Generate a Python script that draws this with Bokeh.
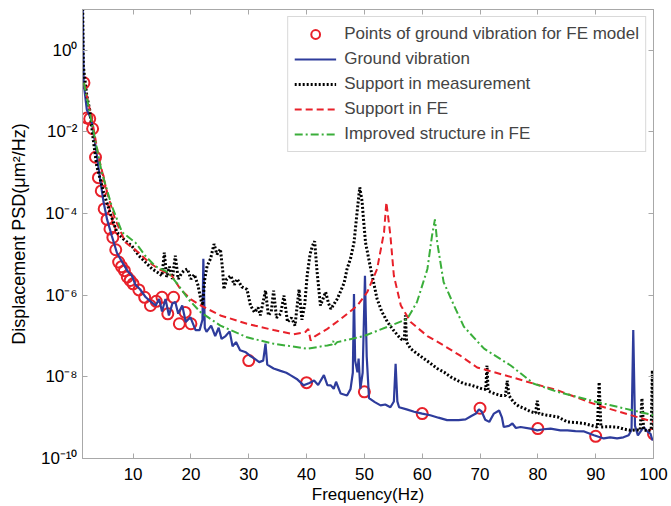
from bokeh.plotting import figure
from bokeh.models import (FixedTicker, CustomJSTickFormatter, LinearAxis, LogAxis,
                          Legend, LegendItem, Range1d)
from bokeh.embed import file_html
from bokeh.resources import INLINE

FONT = "Liberation Sans"

# ---- data ----
points_freq = [1.5, 2.0, 2.5, 3.0, 3.5, 4.0, 4.5, 5.0, 5.5, 6.0, 6.5, 7.0, 7.5, 8.0, 8.5, 9.0,
               9.5, 10, 11, 12, 13, 14, 15, 16, 17, 18, 19, 20, 30, 40, 50, 60, 70, 80, 90, 100]
points_psd = [1.6e-1, 2.2e-2, 2.1e-2, 1.2e-2, 2.4e-3, 7.6e-4, 3.6e-4, 1.3e-4, 7.2e-5, 4.2e-5,
              2.6e-5, 1.3e-5, 6.5e-6, 5.0e-6, 4.0e-6, 2.8e-6, 2.3e-6, 1.9e-6, 1.35e-6, 8.9e-7,
              5.6e-7, 7.1e-7, 8.9e-7, 3.5e-7, 8.9e-7, 2.0e-7, 3.8e-7, 2.0e-7, 2.5e-8, 7.2e-9,
              4.3e-9, 1.26e-9, 1.7e-9, 5.4e-10, 3.5e-10, 4.0e-10]

ground_freq = [1.25, 1.45, 2.0, 2.8, 3.5, 4.3, 4.9, 5.5, 6.3, 7.2, 8.1, 9.0, 9.8, 10.4, 11.2,
               12.2, 13.0, 13.9, 14.5, 15.0, 15.6, 16.2, 16.8, 17.3, 17.8, 18.5, 19.1, 19.9,
               20.8, 21.5, 22.0, 22.15, 22.4, 22.7, 23.5, 24.2, 24.8, 25.3, 26.0, 26.7, 27.2,
               27.8, 28.5, 29.5, 30.2, 31.0, 31.8, 32.5, 32.9, 33.2, 34.3, 35.5, 36.5, 37.2,
               38.3, 39.5, 40.5, 41.3, 42.0, 43.0, 43.6, 44.2, 44.7, 45.1, 45.9, 47.0, 47.6,
               48.0, 48.2, 48.4, 48.8, 49.0, 49.3, 49.7, 50.1, 50.4, 50.8, 51.8, 52.8, 53.6,
               54.5, 55.1, 55.4, 55.7, 56.0, 57.3, 58.6, 60.0, 61.4, 62.8, 64.3, 66.3, 67.5,
               68.5, 69.3, 69.8, 70.3, 70.9, 71.6, 72.4, 73.3, 73.8, 74.1, 75.0, 75.6, 76.2,
               77.0, 78.7, 79.9, 81.0, 82.2, 83.9, 85.1, 86.5, 88.0, 89.7, 91.4, 92.5, 93.7,
               94.8, 95.7, 96.2, 96.5, 96.8, 97.3, 98.3, 99.0, 99.5, 99.8, 100]
ground_psd = [3.2e1, 1.6e-1, 3.5e-2, 2.0e-2, 4.6e-3, 6.9e-4, 1.9e-4, 7.2e-5, 2.9e-5, 1.1e-5,
              6.5e-6, 4.0e-6, 3.0e-6, 1.8e-6, 1.4e-6, 8.9e-7, 7.1e-7, 5.6e-7, 8.1e-7, 4.0e-7,
              8.1e-7, 3.2e-7, 6.3e-7, 6.8e-7, 3.5e-7, 5.6e-7, 2.2e-7, 2.9e-7, 1.4e-7, 1.4e-7,
              2.5e-7, 7.8e-6, 1.6e-7, 1.26e-7, 1.8e-7, 1.0e-7, 1.6e-7, 8.5e-8, 1.0e-7, 1.3e-7,
              5.6e-8, 7.1e-8, 4.5e-8, 4.0e-8, 3.3e-8, 2.8e-8, 2.3e-8, 2.5e-8, 6.5e-8, 2.0e-8,
              1.6e-8, 1.4e-8, 1.26e-8, 1.1e-8, 8.9e-9, 6.2e-9, 7.1e-9, 8.1e-9, 6.3e-9, 1.1e-8,
              6.3e-9, 6.2e-9, 5.1e-9, 7.6e-9, 3.9e-9, 3.5e-9, 5.0e-9, 1.26e-8, 1.07e-6, 2.5e-8,
              1.3e-8, 2.8e-8, 5.1e-9, 1.26e-8, 3.0e-6, 3.2e-8, 3.0e-9, 2.4e-9, 2.0e-9, 2.1e-9,
              1.8e-9, 2.5e-9, 2.1e-8, 2.5e-9, 1.8e-9, 1.6e-9, 1.4e-9, 1.26e-9, 1.15e-9, 1.0e-9,
              8.7e-10, 8.7e-10, 9.1e-10, 1.1e-9, 1.26e-9, 1.6e-9, 1.4e-9, 8.9e-10, 7.9e-10,
              1.26e-9, 1.5e-9, 1.0e-9, 5.9e-10, 6.3e-10, 7.2e-10, 5.6e-10, 5.9e-10, 5.4e-10,
              4.9e-10, 5.2e-10, 5.4e-10, 4.9e-10, 4.9e-10, 4.7e-10, 4.6e-10, 3.7e-10, 3.1e-10,
              3.3e-10, 3.1e-10, 3.3e-10, 3.7e-10, 5.0e-10, 1.4e-7, 6.3e-10, 3.7e-10, 5.9e-10,
              4.5e-10, 4.0e-10, 2.8e-10, 3.2e-10]

support_meas_freq = [1.25, 1.4, 2.0, 2.5, 3.1, 3.7, 4.9, 6.0, 7.2, 8.3, 9.8, 11.0, 12.1, 13.3,
                     14.4, 15.0, 15.4, 15.8, 16.3, 16.8, 17.3, 17.8, 18.4, 18.8, 19.4, 20.0,
                     20.6, 21.2, 21.7, 22.0, 22.4, 22.8, 23.4, 24.0, 24.5, 25.1, 25.5, 25.7,
                     26.2, 26.9, 27.5, 28.0, 28.8, 29.7, 30.3, 31.0, 31.6, 32.0, 32.9, 33.4,
                     33.9, 34.3, 34.8, 35.5, 36.1, 36.7, 37.4, 38.0, 38.7, 39.2, 39.7, 40.1,
                     40.6, 41.0, 41.4, 41.8, 42.4, 43.3, 43.8, 44.2, 45.3, 45.9, 46.5, 47.0,
                     47.6, 48.2, 48.8, 49.2, 49.6, 49.8, 50.2, 51.1, 52.2, 53.0, 54.0, 55.0,
                     56.3, 56.9, 57.1, 57.3, 58.0, 59.0, 60.3, 61.5, 62.6, 63.8, 64.9, 66.0,
                     67.2, 68.4, 69.5, 70.5, 71.0, 71.2, 71.4, 72.3, 73.5, 74.4, 74.7, 75.0,
                     75.8, 76.7, 77.6, 78.8, 79.6, 79.9, 80.2, 81.6, 83.4, 85.1, 86.5, 88.0,
                     90.3, 90.6, 90.9, 92.2, 93.7, 95.0, 96.0, 97.0, 97.7, 98.0, 98.3, 99.0,
                     99.6, 99.8, 100]
support_meas_psd = [3.2e1, 4.1e-1, 7.6e-2, 3.5e-2, 6.6e-3, 1.5e-3, 3.3e-4, 1.07e-4, 3.5e-5,
                    2.4e-5, 1.6e-5, 9.3e-6, 6.5e-6, 4.4e-6, 3.5e-6, 3.0e-6, 1.1e-5, 2.8e-6,
                    5.0e-6, 2.5e-6, 9.3e-6, 2.5e-6, 3.5e-6, 4.0e-6, 4.4e-6, 2.5e-6, 3.2e-6,
                    1.8e-6, 8.1e-7, 5.6e-7, 2.5e-6, 5.2e-6, 7.9e-6, 1.8e-5, 1.0e-5, 1.35e-5,
                    4.0e-6, 1.4e-6, 2.5e-6, 3.0e-6, 1.8e-6, 2.5e-6, 1.6e-6, 1.4e-6, 5.6e-7,
                    3.8e-7, 5.0e-7, 3.2e-7, 1.3e-6, 3.2e-7, 4.0e-7, 1.3e-6, 2.8e-7, 3.5e-7,
                    9.8e-7, 2.2e-7, 2.8e-7, 1.8e-7, 1.4e-6, 2.5e-7, 6.3e-7, 3.0e-6, 1.0e-5,
                    1.6e-5, 2.1e-5, 4.0e-6, 5.6e-7, 1.2e-6, 6.3e-7, 4.6e-7, 8.1e-7, 1.26e-6,
                    2.0e-6, 4.4e-6, 7.9e-6, 1.95e-5, 1.3e-4, 4.4e-4, 2.0e-4, 8.7e-5, 1.95e-5,
                    4.4e-6, 8.1e-7, 4.0e-7, 2.2e-7, 1.4e-7, 8.5e-8, 7.9e-8, 3.2e-7, 7.1e-8,
                    4.9e-8, 3.8e-8, 2.8e-8, 2.1e-8, 1.6e-8, 1.3e-8, 1.0e-8, 8.3e-9, 6.8e-9,
                    6.3e-9, 5.6e-9, 5.0e-9, 5.0e-9, 1.9e-8, 4.5e-9, 4.0e-9, 3.5e-9, 3.5e-9,
                    8.1e-9, 3.5e-9, 2.4e-9, 1.9e-9, 1.7e-9, 1.4e-9, 1.3e-9, 2.6e-9, 1.26e-9,
                    1.15e-9, 1.05e-9, 7.9e-10, 7.6e-10, 7.2e-10, 5.9e-10, 7.4e-9, 5.9e-10,
                    6.0e-10, 5.9e-10, 5.2e-10, 4.9e-10, 5.0e-10, 5.0e-10, 3.0e-9, 5.0e-10,
                    4.8e-10, 5.0e-10, 1.45e-8, 5.0e-10]

support_fe_freq = [1.5, 2.9, 4.0, 5.5, 6.9, 8.7, 11.0, 12.7, 14.4, 16.7, 18.2, 20.0, 21.7, 25.1,
                   29.7, 34.3, 37.8, 39.8, 40.3, 40.7, 41.5, 43.6, 45.9, 48.8, 50.5, 52.2, 53.4,
                   53.8, 54.5, 55.1, 56.3, 58.0, 60.9, 63.7, 66.6, 69.5, 75.3, 79.3, 83.4, 90.4,
                   100]
support_fe_psd = [1.6e-1, 2.0e-2, 2.6e-3, 3.3e-4, 7.2e-5, 1.95e-5, 1.1e-5, 6.5e-6, 4.4e-6,
                  3.0e-6, 1.4e-6, 7.9e-7, 5.6e-7, 3.2e-7, 2.0e-7, 1.4e-7, 1.1e-7, 1.26e-7,
                  1.5e-7, 7.8e-8, 1.0e-7, 1.5e-7, 2.6e-7, 5.6e-7, 1.2e-6, 4.4e-6, 3.5e-5,
                  1.9e-4, 2.9e-5, 3.0e-6, 5.6e-7, 2.2e-7, 1.0e-7, 5.9e-8, 3.3e-8, 1.7e-8,
                  1.0e-8, 6.8e-9, 4.7e-9, 2.0e-9, 7.9e-10]

improved_freq = [1.5, 3.2, 4.6, 6.3, 8.1, 10.4, 12.1, 13.8, 16.1, 17.9, 19.6, 21.7, 25.1, 29.7,
                 34.3, 40.1, 43.6, 44.4, 44.6, 44.8, 45.3, 49.9, 54.5, 57.4, 59.1, 60.9, 61.7,
                 62.2, 62.6, 63.7, 65.5, 66.6, 67.2, 70.7, 75.3, 79.3, 83.4, 90.3, 100]
improved_psd = [1.6e-1, 9.5e-3, 1.0e-3, 1.55e-4, 3.5e-5, 1.95e-5, 9.3e-6, 5.2e-6, 3.6e-6,
                1.7e-6, 7.9e-7, 3.8e-7, 1.8e-7, 9.3e-8, 6.5e-8, 4.9e-8, 5.9e-8, 6.2e-8,
                7.6e-8, 6.0e-8, 7.1e-8, 1.0e-7, 1.8e-7, 2.6e-7, 6.8e-7, 4.4e-6, 2.9e-5,
                7.2e-5, 1.95e-5, 2.1e-6, 5.6e-7, 2.6e-7, 1.7e-7, 4.9e-8, 1.9e-8, 6.8e-9,
                4.3e-9, 2.4e-9, 1.15e-9]

x_ticks = [10, 20, 30, 40, 50, 60, 70, 80, 90, 100]
y_ticks = [1e-10, 1e-8, 1e-6, 1e-4, 1e-2, 1e0]

legend_labels = ["Points of ground vibration for FE model", "Ground vibration",
                 "Support in measurement", "Support in FE", "Improved structure in FE"]

# ---- figure ----
p = figure(width=671, height=506, x_range=Range1d(1.25, 100), y_range=Range1d(1e-10, 10),
           y_axis_type="log", output_backend="svg", toolbar_location=None,
           min_border_left=82, min_border_right=18, min_border_top=9, min_border_bottom=46,
           background_fill_color="white", border_fill_color="white")
p.grid.visible = False
p.outline_line_color = "#a8a8a8"

RED = "#e8212a"
BLUE = "#2e3c9c"
GREEN = "#3aae3a"

r_pts = p.scatter(points_freq, points_psd, marker="circle", size=11, fill_color=None,
                  line_color=RED, line_width=2)
r_blue = p.line(ground_freq, ground_psd, line_color=BLUE, line_width=2.2)
r_black = p.line(support_meas_freq, support_meas_psd, line_color="black", line_width=3,
                 line_dash="2 2")
r_red = p.line(support_fe_freq, support_fe_psd, line_color=RED, line_width=2,
               line_dash="7 4")
r_green = p.line(improved_freq, improved_psd, line_color=GREEN, line_width=2,
                 line_dash="8 3 2 3")

sup_code = """
const sup = {'-':'\u207b','0':'\u2070','1':'\u00b9','2':'\u00b2','3':'\u00b3','4':'\u2074',
             '5':'\u2075','6':'\u2076','7':'\u2077','8':'\u2078','9':'\u2079'};
const e = Math.round(Math.log10(tick));
return '10' + String(e).split('').map(c => sup[c]).join('');
"""

AX = "#a8a8a8"
for ax in p.xaxis:
    ax.ticker = FixedTicker(ticks=x_ticks)
    ax.axis_label = "Frequency(Hz)"
for ax in p.yaxis:
    ax.ticker = FixedTicker(ticks=y_ticks)
    ax.formatter = CustomJSTickFormatter(code=sup_code)
    ax.axis_label = "Displacement PSD(\u03bcm\u00b2/Hz)"

for ax in p.xaxis + p.yaxis:
    ax.axis_line_color = AX
    ax.major_tick_line_color = AX
    ax.major_tick_in = 5
    ax.major_tick_out = 0
    ax.minor_tick_line_color = None
    ax.major_label_text_font = FONT
    ax.major_label_text_font_size = "17px"
    ax.major_label_text_color = "black"
    ax.axis_label_text_font = FONT
    ax.axis_label_text_font_style = "normal"
    ax.axis_label_text_color = "black"
p.xaxis.axis_label_text_font_size = "17px"
p.yaxis.axis_label_text_font_size = "18px"
p.xaxis.major_label_standoff = 9
p.xaxis.axis_label_standoff = 2
p.yaxis.major_label_standoff = 5
p.yaxis.axis_label_standoff = 9

blank = CustomJSTickFormatter(code="return '';")
top_ax = LinearAxis(ticker=FixedTicker(ticks=x_ticks), formatter=blank,
                    major_label_standoff=0, major_tick_in=5, major_tick_out=0,
                    axis_line_color=AX, major_tick_line_color=AX, minor_tick_line_color=None)
right_ax = LogAxis(ticker=FixedTicker(ticks=y_ticks), formatter=CustomJSTickFormatter(code="return '';"),
                   major_label_standoff=0, major_tick_in=5, major_tick_out=0,
                   axis_line_color=AX, major_tick_line_color=AX, minor_tick_line_color=None)
p.add_layout(top_ax, "above")
p.add_layout(right_ax, "right")

legend = Legend(items=[LegendItem(label=legend_labels[0], renderers=[r_pts]),
                       LegendItem(label=legend_labels[1], renderers=[r_blue]),
                       LegendItem(label=legend_labels[2], renderers=[r_black]),
                       LegendItem(label=legend_labels[3], renderers=[r_red]),
                       LegendItem(label=legend_labels[4], renderers=[r_green])],
                location="top_right", margin=7, padding=6, spacing=3,
                label_text_font=FONT, label_text_font_size="17px",
                glyph_width=42, glyph_height=22, label_height=22, label_standoff=8,
                border_line_color="#b4b4b4", border_line_width=1,
                background_fill_color="white", background_fill_alpha=1)
p.add_layout(legend)

open("out.html", "w").write(file_html(p, INLINE))
